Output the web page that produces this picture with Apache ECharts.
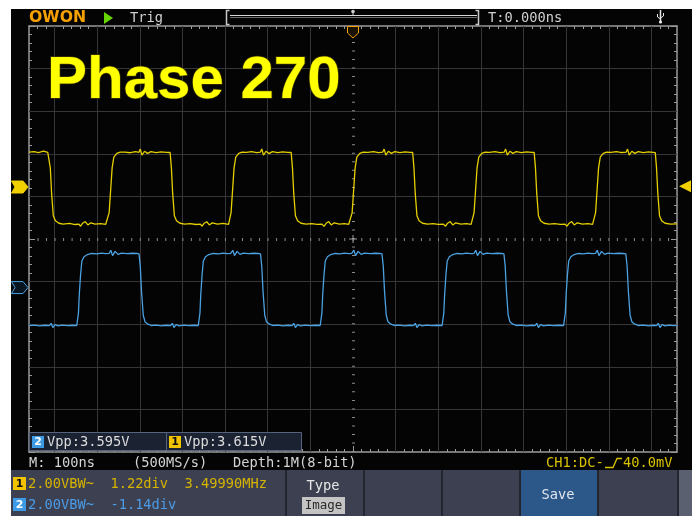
<!DOCTYPE html>
<html><head><meta charset="utf-8">
<script src="https://cdn.jsdelivr.net/npm/echarts@6/dist/echarts.min.js"></script>
<style>html,body{margin:0;padding:0;background:#fff}#c{width:696px;height:516px}</style>
</head><body><div id="c"></div>
<script>
// ---- data (time in ns, voltage in V) ----
const timeRange = [-760, 760];          // 100 ns/div, 15.2 div visible
const gridX = [-700,-600,-500,-400,-300,-200,-100,100,200,300,400,500,600,700];
const gridY = [-4,-3,-2,-1,1,2,3,4];    // divisions
const divRange = [-5, 5];
const voltsPerDiv = 2;
const ch1OffsetDiv = 1.22;
const ch2OffsetDiv = -1.14;
const trigLevel = 0.04;

const ch1 = [
[-760,1.64],[-748,1.66],[-738,1.62],[-726,1.68],[-716,1.63],
[-713,1.6],[-710,0.9],[-707,-0.3],[-703,-1.35],[-698,-1.58],[-690,-1.7],
[-680,-1.74],[-665,-1.71],[-652,-1.76],[-643,-1.74],[-639,-1.84],[-634,-1.7],[-628,-1.62],[-622,-1.78],[-615,-1.68],[-605,-1.74],[-592,-1.72],[-580,-1.75],
[-576,-1.73],[-572,-1.2],[-569,-0.3],[-565,0.9],[-561,1.4],[-554,1.58],[-546,1.64],
[-535,1.64],[-522,1.61],[-510,1.66],[-502,1.63],[-499,1.78],[-495,1.5],[-489,1.68],[-482,1.58],[-474,1.66],[-462,1.62],[-450,1.65],[-438,1.63],
[-429,1.62],[-426,0.9],[-423,-0.3],[-419,-1.35],[-414,-1.58],[-406,-1.7],
[-395,-1.74],[-382,-1.72],[-368,-1.76],[-358,-1.74],[-354,-1.84],[-349,-1.7],[-343,-1.63],[-337,-1.78],[-330,-1.68],[-318,-1.74],[-305,-1.71],[-292,-1.75],
[-290,-1.73],[-286,-1.2],[-283,-0.3],[-279,0.9],[-275,1.4],[-268,1.58],[-260,1.64],
[-250,1.63],[-238,1.66],[-226,1.62],[-217,1.64],[-214,1.79],[-210,1.5],[-204,1.68],[-197,1.57],[-189,1.66],[-177,1.62],[-165,1.65],[-153,1.63],
[-145,1.62],[-142,0.9],[-139,-0.3],[-135,-1.35],[-130,-1.58],[-122,-1.7],
[-110,-1.74],[-97,-1.72],[-84,-1.75],[-73,-1.74],[-68,-1.85],[-63,-1.7],[-57,-1.62],[-51,-1.78],[-44,-1.68],[-32,-1.74],[-20,-1.72],[-10,-1.75],
[-6,-1.73],[-2,-1.2],[1,-0.3],[5,0.9],[9,1.4],[16,1.58],[24,1.64],
[35,1.63],[48,1.66],[60,1.62],[70,1.64],[73,1.78],[77,1.5],[83,1.68],[90,1.58],[98,1.66],[110,1.62],[122,1.65],[134,1.63],
[140,1.62],[143,0.9],[146,-0.3],[150,-1.35],[155,-1.58],[163,-1.7],
[175,-1.74],[188,-1.72],[200,-1.75],[212,-1.74],[217,-1.84],[222,-1.7],[228,-1.62],[234,-1.78],[241,-1.68],[253,-1.74],[266,-1.72],[277,-1.75],
[280,-1.73],[284,-1.2],[287,-0.3],[291,0.9],[295,1.4],[302,1.58],[310,1.64],
[320,1.63],[333,1.66],[345,1.62],[355,1.64],[358,1.78],[362,1.5],[368,1.68],[375,1.58],[383,1.66],[395,1.62],[407,1.65],[419,1.63],
[425,1.62],[428,0.9],[431,-0.3],[435,-1.35],[440,-1.58],[448,-1.7],
[460,-1.74],[473,-1.72],[486,-1.75],[497,-1.74],[502,-1.84],[507,-1.7],[513,-1.62],[519,-1.78],[526,-1.68],[538,-1.74],[551,-1.72],[562,-1.75],
[565,-1.73],[569,-1.2],[572,-0.3],[576,0.9],[580,1.4],[587,1.58],[595,1.64],
[605,1.63],[618,1.66],[630,1.62],[641,1.64],[644,1.78],[648,1.5],[654,1.68],[661,1.58],[669,1.66],[681,1.62],[693,1.65],[704,1.63],
[709,1.62],[712,0.9],[715,-0.3],[719,-1.35],[724,-1.58],[732,-1.7],
[745,-1.74],[760,-1.73]
];

const ch2 = [
[-760,-1.78],[-748,-1.76],[-735,-1.8],[-722,-1.77],[-712,-1.79],[-708,-1.68],[-704,-1.88],[-699,-1.74],[-692,-1.8],[-682,-1.76],[-670,-1.79],[-658,-1.77],[-648,-1.78],
[-647,-1.76],[-644,-1.2],[-642,-0.3],[-639,0.6],[-636,1.25],[-631,1.45],[-623,1.55],[-613,1.6],
[-600,1.58],[-590,1.62],[-580,1.59],[-572,1.61],[-568,1.75],[-564,1.5],[-558,1.7],[-551,1.56],[-543,1.62],[-530,1.59],[-518,1.61],[-507,1.6],[-502,1.58],
[-499,1.0],[-496,-0.2],[-492,-1.3],[-488,-1.6],[-481,-1.72],[-473,-1.78],
[-462,-1.76],[-450,-1.8],[-438,-1.77],[-428,-1.79],[-424,-1.68],[-420,-1.88],[-415,-1.74],[-408,-1.8],[-397,-1.76],[-385,-1.79],[-373,-1.77],[-363,-1.78],
[-362,-1.76],[-359,-1.2],[-357,-0.3],[-354,0.6],[-351,1.25],[-346,1.45],[-338,1.55],[-328,1.6],
[-315,1.58],[-305,1.62],[-295,1.59],[-287,1.61],[-282,1.75],[-278,1.5],[-272,1.7],[-265,1.56],[-257,1.62],[-245,1.59],[-233,1.61],[-222,1.6],[-217,1.58],
[-214,1.0],[-211,-0.2],[-207,-1.3],[-203,-1.6],[-196,-1.72],[-188,-1.78],
[-176,-1.76],[-164,-1.8],[-152,-1.77],[-143,-1.79],[-139,-1.68],[-135,-1.88],[-130,-1.74],[-123,-1.8],[-112,-1.76],[-100,-1.79],[-88,-1.77],[-77,-1.78],
[-76,-1.76],[-73,-1.2],[-71,-0.3],[-68,0.6],[-65,1.25],[-60,1.45],[-52,1.55],[-42,1.6],
[-30,1.58],[-20,1.62],[-10,1.59],[-3,1.61],[2,1.76],[6,1.5],[12,1.7],[19,1.56],[27,1.62],[40,1.59],[52,1.61],[63,1.6],[68,1.58],
[71,1.0],[74,-0.2],[78,-1.3],[82,-1.6],[89,-1.72],[97,-1.78],
[109,-1.76],[121,-1.8],[133,-1.77],[142,-1.79],[146,-1.68],[150,-1.88],[155,-1.74],[162,-1.8],[173,-1.76],[185,-1.79],[197,-1.77],[209,-1.78],
[210,-1.76],[213,-1.2],[215,-0.3],[218,0.6],[221,1.25],[226,1.45],[234,1.55],[244,1.6],
[256,1.58],[266,1.62],[276,1.59],[284,1.61],[288,1.75],[292,1.5],[298,1.7],[305,1.56],[313,1.62],[326,1.59],[338,1.61],[349,1.6],[354,1.58],
[357,1.0],[360,-0.2],[364,-1.3],[368,-1.6],[375,-1.72],[383,-1.78],
[395,-1.76],[407,-1.8],[419,-1.77],[427,-1.79],[431,-1.68],[435,-1.88],[440,-1.74],[447,-1.8],[458,-1.76],[470,-1.79],[482,-1.77],[494,-1.78],
[495,-1.76],[498,-1.2],[500,-0.3],[503,0.6],[506,1.25],[511,1.45],[519,1.55],[529,1.6],
[541,1.58],[551,1.62],[561,1.59],[569,1.61],[573,1.75],[577,1.5],[583,1.7],[590,1.56],[598,1.62],[611,1.59],[623,1.61],[634,1.6],[640,1.58],
[643,1.0],[646,-0.2],[650,-1.3],[654,-1.6],[661,-1.72],[669,-1.78],
[681,-1.76],[693,-1.8],[704,-1.77],[712,-1.79],[716,-1.68],[720,-1.88],[725,-1.74],[732,-1.8],[742,-1.76],[752,-1.79],[760,-1.77]
];

// texts
const titleText = 'Phase 270';
const topTexts = { trig: 'Trig', time: 'T:0.000ns', logo: 'OWON' };
const statusTexts = ['M: 100ns', '(500MS/s)', 'Depth:1M(8-bit)'];
const trigInfo = ['CH1:DC-', '40.0mV'];
const vppTexts = ['Vpp:3.595V', 'Vpp:3.615V'];
const ch1Info = '2.00VBW~  1.22div  3.49990MHz';
const ch2Info = '2.00VBW~  -1.14div';
const menuTexts = ['Type', 'Image', 'Save'];

// ---- chart ----
const C1 = '#e6cf00', C2 = '#4aa2e2', GRID = '#363636', FRAME = '#9a9a9a';
const mono = '"DejaVu Sans Mono", monospace';
const minorX = [], majorX = [];
for (let t = -740; t <= 740; t += 20) minorX.push(t);
for (let t = -700; t <= 700; t += 100) majorX.push(t);

const chart = echarts.init(document.getElementById('c'), null, {renderer: 'canvas'});
const xBase = {type: 'value', min: timeRange[0], max: timeRange[1], axisLabel: {show: false}, splitLine: {show: false}};
const option = {
  animation: false,
  backgroundColor: '#040404',
  grid: {left: 29, top: 26, width: 648, height: 426, containLabel: false},
  xAxis: [
    Object.assign({}, xBase, {position: 'bottom', axisLine: {onZero: false, lineStyle: {color: FRAME, width: 1.5}},
      axisTick: {inside: true, length: 3, customValues: minorX, lineStyle: {color: FRAME}}}),
    Object.assign({}, xBase, {position: 'top', axisLine: {onZero: false, lineStyle: {color: FRAME, width: 1.5}},
      axisTick: {inside: true, length: 3, customValues: minorX, lineStyle: {color: FRAME}}}),
    Object.assign({}, xBase, {position: 'bottom', axisLine: {show: false, onZero: false},
      axisTick: {inside: true, length: 6, customValues: majorX, lineStyle: {color: FRAME}}}),
    Object.assign({}, xBase, {position: 'top', axisLine: {show: false, onZero: false},
      axisTick: {inside: true, length: 6, customValues: majorX, lineStyle: {color: FRAME}}})
  ],
  yAxis: [
    {type: 'value', position: 'left', min: divRange[0], max: divRange[1], interval: 1,
      axisLine: {show: true, onZero: false, lineStyle: {color: FRAME, width: 1.5}}, axisLabel: {show: false},
      axisTick: {show: true, inside: true, length: 6, lineStyle: {color: FRAME}},
      minorTick: {show: true, splitNumber: 5, length: 3, lineStyle: {color: FRAME}},
      splitLine: {show: false}},
    {type: 'value', position: 'right', min: divRange[0], max: divRange[1], interval: 1,
      axisLine: {show: true, onZero: false, lineStyle: {color: FRAME, width: 1.5}}, axisLabel: {show: false},
      axisTick: {show: true, inside: true, length: 6, lineStyle: {color: FRAME}},
      minorTick: {show: true, splitNumber: 5, length: 3, lineStyle: {color: FRAME}},
      splitLine: {show: false}},
    {type: 'value', show: false, min: (divRange[0] - ch1OffsetDiv) * voltsPerDiv, max: (divRange[1] - ch1OffsetDiv) * voltsPerDiv},
    {type: 'value', show: false, min: (divRange[0] - ch2OffsetDiv) * voltsPerDiv, max: (divRange[1] - ch2OffsetDiv) * voltsPerDiv}
  ],
  series: [
    {type: 'scatter', data: [], xAxisIndex: 0, yAxisIndex: 0, silent: true, z: 1,
      markLine: {silent: true, symbol: 'none', z: 1, animation: false, label: {show: false},
        emphasis: {disabled: true},
        data: gridX.map(v => ({xAxis: v, lineStyle: {color: GRID, width: 1, type: 'solid'}}))
          .concat(gridY.map(v => ({yAxis: v, lineStyle: {color: GRID, width: 1, type: 'solid'}})))
          .concat([{yAxis: 0, lineStyle: {color: '#8a8a8a', width: 3, type: [1, 7.52]}},
                   {xAxis: 0, lineStyle: {color: '#8a8a8a', width: 3, type: [1, 7.52]}}])}},
    {name: 'CH1', type: 'line', data: ch1, xAxisIndex: 0, yAxisIndex: 2, showSymbol: false, symbol: 'none',
      lineStyle: {color: C1, width: 1.3}, z: 3, silent: true},
    {name: 'CH2', type: 'line', data: ch2, xAxisIndex: 0, yAxisIndex: 3, showSymbol: false, symbol: 'none',
      lineStyle: {color: C2, width: 1.3}, z: 3, silent: true}
  ]
};
chart.setOption(option);

// ---- decorations (positions from library scales where tied to data) ----
const y1 = chart.convertToPixel({yAxisIndex: 2}, 0);
const y2 = chart.convertToPixel({yAxisIndex: 3}, 0);
const yT = chart.convertToPixel({yAxisIndex: 2}, trigLevel);
const cx = chart.convertToPixel({xAxisIndex: 0}, 0);
const cy = chart.convertToPixel({yAxisIndex: 0}, 0);

function T(x, y, text, fill, font, extra) {
  return {type: 'text', x: x, y: y, z: 20, silent: true,
    style: Object.assign({text: text, fill: fill, font: font, verticalAlign: 'middle'}, extra || {})};
}
function R(x, y, w, h, fill, extra) {
  return {type: 'rect', z: 10, silent: true, shape: {x: x, y: y, width: w, height: h}, style: Object.assign({fill: fill}, extra || {})};
}
function PL(points, stroke, w) {
  return {type: 'polyline', z: 21, silent: true, shape: {points: points}, style: {stroke: stroke, fill: null, lineWidth: w || 1}};
}
function PG(points, fill, stroke) {
  return {type: 'polygon', z: 21, silent: true, shape: {points: points}, style: {fill: fill, stroke: stroke || null, lineWidth: 1}};
}
const f14 = '13.7px ' + mono;
const g = [];
// white margins of screenshot
g.push(R(0, 0, 696, 9, '#fff'), R(0, 0, 11, 516, '#fff'), R(692, 0, 4, 516, '#fff'));
// title
g.push(T(47, 81.5, titleText, '#ffff00', 'bold 60px "Liberation Sans", Arial, sans-serif',
  {stroke: '#3d3600', lineWidth: 1.5}));
// top bar
g.push(T(29, 17.5, topTexts.logo, '#f4a100', 'bold 15.7px "DejaVu Sans", sans-serif'));
g.push(PG([[104, 12], [104, 24], [113, 18]], '#66d400'));
g.push(T(130, 18.5, topTexts.trig, '#d0d0d0', f14));
g.push(PL([[229.5, 10.5], [226.5, 10.5], [226.5, 24.5], [229.5, 24.5]], '#c8c8c8', 1.5));
g.push(PL([[230, 15.5], [477, 15.5]], '#d8d8d8', 1));
g.push(PL([[230, 17.5], [477, 17.5]], '#6a6a6a', 1));
g.push(PL([[475.5, 10.5], [478.5, 10.5], [478.5, 24.5], [475.5, 24.5]], '#c8c8c8', 1.5));
g.push({type: 'circle', z: 21, silent: true, shape: {cx: 353, cy: 11.5, r: 1.8}, style: {fill: '#cfcfcf'}});
g.push(PL([[353, 11.5], [353, 15]], '#cfcfcf', 1));
g.push(T(488, 18.5, topTexts.time, '#d0d0d0', f14));
g.push(PL([[660.5, 10], [660.5, 23]], '#e8e8e8', 1.5));
g.push(PL([[657.5, 14], [657.5, 17], [660.5, 19]], '#e8e8e8', 1));
g.push(PL([[663.5, 13], [663.5, 16], [660.5, 18]], '#e8e8e8', 1));
g.push({type: 'circle', z: 21, silent: true, shape: {cx: 660.5, cy: 22, r: 1.6}, style: {fill: '#e8e8e8'}});
// trigger position marker
g.push(PG([[347.5, 26.5], [358.5, 26.5], [358.5, 33], [353, 38], [347.5, 33]], '#1c1200', '#f0a000'));
g.push(T(353, 31.5, 'T', '#f0a000', 'bold 10px "DejaVu Sans Mono", monospace', {align: 'center'}));
// center cross
g.push(PL([[cx - 4, cy], [cx + 4, cy]], '#9a9a9a', 1));
g.push(PL([[cx, cy - 4], [cx, cy + 4]], '#9a9a9a', 1));
// channel markers
g.push(PG([[11.5, y1 - 6], [23, y1 - 6], [28, y1], [23, y1 + 6], [11.5, y1 + 6], [15, y1]], '#f0d000', '#f0d000'));
g.push(T(21, y1 + 0.5, '1', '#1a1a00', 'bold 11px "DejaVu Sans", sans-serif', {align: 'center'}));
g.push(PG([[11.5, y2 - 6], [23, y2 - 6], [28, y2], [23, y2 + 6], [11.5, y2 + 6], [15, y2]], '#081420', C2));
g.push(T(21, y2 + 0.5, '2', C2, 'bold 11px "DejaVu Sans", sans-serif', {align: 'center'}));
g.push(PG([[679, yT], [691, yT - 6], [691, yT + 6]], '#f0d000'));
// Vpp box
g.push(R(29.5, 432.5, 272, 18, '#1b2232', {stroke: '#56637c', lineWidth: 1}));
g.push(PL([[166.5, 433], [166.5, 450]], '#56637c', 1));
g.push(R(32, 436, 12, 12, '#3d9be6'));
g.push(T(38, 442.5, '2', '#ffffff', 'bold 11px "DejaVu Sans", sans-serif', {align: 'center'}));
g.push(T(47, 442, vppTexts[0], '#dcdcdc', f14));
g.push(R(169, 436, 12, 12, '#f2c400'));
g.push(T(175, 442.5, '1', '#111', 'bold 11px "DejaVu Sans", sans-serif', {align: 'center'}));
g.push(T(184, 442, vppTexts[1], '#dcdcdc', f14));
// status line
g.push(T(29, 463.5, statusTexts[0], '#d4d4d4', f14));
g.push(T(133, 463.5, statusTexts[1], '#d4d4d4', f14));
g.push(T(233, 463.5, statusTexts[2], '#d4d4d4', f14));
g.push(T(546, 463.5, trigInfo[0], '#d9c300', f14));
g.push(PL([[605, 467.5], [613, 467.5], [617, 458.5], [622, 458.5]], '#d9c300', 1.3));
g.push(T(623, 463.5, trigInfo[1], '#d9c300', f14));
// bottom panel
g.push(R(11, 470, 681, 46, '#3c4050'));
g.push(R(520, 470, 77, 46, '#2c5889'));
g.push(R(679, 470, 13, 46, '#5b6070'));
[285, 363, 441, 519, 597, 677].forEach(x => g.push(R(x, 470, 2, 46, '#23262f')));
g.push(R(13, 477, 13, 13, '#f2c400'));
g.push(T(19.5, 484, '1', '#111', 'bold 11px "DejaVu Sans", sans-serif', {align: 'center'}));
g.push(T(28, 484.5, ch1Info, '#d6b400', f14));
g.push(R(13, 498, 13, 13, '#3d9be6'));
g.push(T(19.5, 505, '2', '#fff', 'bold 11px "DejaVu Sans", sans-serif', {align: 'center'}));
g.push(T(28, 505.5, ch2Info, '#4b9be6', f14));
g.push(T(323, 486, menuTexts[0], '#e6e6e6', f14, {align: 'center'}));
g.push(R(302, 497, 43, 17, '#c4c4c4'));
g.push(T(323.5, 506, menuTexts[1], '#2a2a2a', '12.5px ' + mono, {align: 'center'}));
g.push(T(558, 495.5, menuTexts[2], '#e0e6ee', f14, {align: 'center'}));

chart.setOption({graphic: {elements: g}});
</script></body></html>
